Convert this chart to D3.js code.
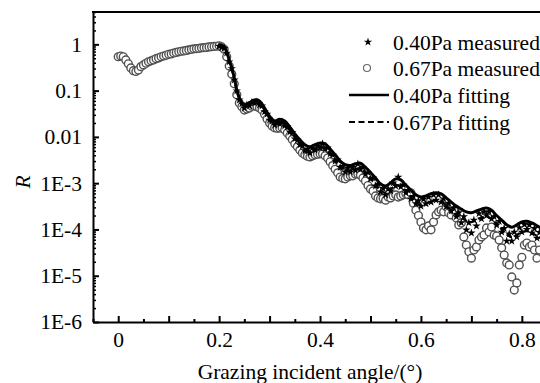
<!DOCTYPE html>
<html>
<head>
<meta charset="utf-8">
<script src="https://cdn.jsdelivr.net/npm/d3@7"></script>
<style>
  html, body { margin: 0; padding: 0; background: #fff; }
  svg { display: block; }
</style>
</head>
<body>
<svg id="chart" width="540" height="383"></svg>
<script>
// grazing angles of the measured points (deg)
const angles = [
  0, 0.005, 0.01, 0.015, 0.02, 0.025, 0.03, 0.035, 0.04, 0.045,
  0.05, 0.055, 0.06, 0.065, 0.07, 0.075, 0.08, 0.085, 0.09, 0.095,
  0.1, 0.105, 0.11, 0.115, 0.12, 0.125, 0.13, 0.135, 0.14, 0.145,
  0.15, 0.155, 0.16, 0.165, 0.17, 0.175, 0.18, 0.185, 0.19, 0.195,
  0.2, 0.205, 0.21, 0.215, 0.22, 0.225, 0.23, 0.235, 0.24, 0.245,
  0.25, 0.255, 0.26, 0.265, 0.27, 0.275, 0.28, 0.285, 0.29, 0.295,
  0.3, 0.305, 0.31, 0.315, 0.32, 0.325, 0.33, 0.335, 0.34, 0.345,
  0.35, 0.355, 0.36, 0.365, 0.37, 0.375, 0.38, 0.385, 0.39, 0.395,
  0.4, 0.405, 0.41, 0.415, 0.42, 0.425, 0.43, 0.435, 0.44, 0.445,
  0.45, 0.455, 0.46, 0.465, 0.47, 0.475, 0.48, 0.485, 0.49, 0.495,
  0.5, 0.505, 0.51, 0.515, 0.52, 0.525, 0.53, 0.535, 0.54, 0.545,
  0.55, 0.555, 0.56, 0.565, 0.57, 0.575, 0.58, 0.585, 0.59, 0.595,
  0.6, 0.605, 0.61, 0.615, 0.62, 0.625, 0.63, 0.635, 0.64, 0.645,
  0.65, 0.655, 0.66, 0.665, 0.67, 0.675, 0.68, 0.685, 0.69, 0.695,
  0.7, 0.705, 0.71, 0.715, 0.72, 0.725, 0.73, 0.735, 0.74, 0.745,
  0.75, 0.755, 0.76, 0.765, 0.77, 0.775, 0.78, 0.785, 0.79, 0.795,
  0.8, 0.805, 0.81, 0.815, 0.82, 0.825, 0.83, 0.835
]

// 0.67Pa measured reflectivity, one value per angle above
const measured067 = [
  0.54, 0.56, 0.54, 0.46, 0.38, 0.31, 0.27, 0.26, 0.28, 0.33,
  0.36, 0.39, 0.42, 0.44, 0.46, 0.49, 0.51, 0.54, 0.56, 0.58,
  0.61, 0.62, 0.65, 0.67, 0.69, 0.71, 0.72, 0.74, 0.76, 0.78,
  0.80, 0.81, 0.82, 0.84, 0.85, 0.86, 0.88, 0.89, 0.90, 0.91,
  0.93, 0.88, 0.78, 0.54, 0.34, 0.23, 0.14, 0.081, 0.054, 0.045,
  0.038, 0.040, 0.042, 0.046, 0.047, 0.045, 0.042, 0.038, 0.031, 0.0245,
  0.020, 0.0173, 0.0157, 0.0153, 0.0155, 0.0157, 0.0142, 0.0122, 0.0105, 0.0088,
  0.0071, 0.0061, 0.0052, 0.0045, 0.0041, 0.0038, 0.0037, 0.0039, 0.0041, 0.0042,
  0.0043, 0.0043, 0.0039, 0.0035, 0.0029, 0.0024, 0.0020, 0.00167, 0.00136, 0.00127,
  0.00124, 0.00136, 0.00144, 0.00144, 0.00158, 0.00158, 0.00151, 0.0013, 0.00112, 8.9e-4,
  7.5e-4, 6.8e-4, 5.3e-4, 4.8e-4, 4.6e-4, 4.7e-4, 4.3e-4, 5.0e-4, 4.8e-4, 5.3e-4,
  5.6e-4, 5.0e-4, 5.3e-4, 5.6e-4, 5.9e-4, 5.6e-4, 6.2e-4, 3.7e-4, 2.6e-4, 2.0e-4,
  1.45e-4, 1.08e-4, 9.8e-5, 1.19e-4, 9.8e-5, 1.45e-4, 2.06e-4, 2.4e-4, 2.6e-4, 2.4e-4,
  3.1e-4, 2.3e-4, 2.06e-4, 2.6e-4, 1.77e-4, 1.25e-4, 1.38e-4, 6.9e-5, 4.6e-5, 3.3e-5,
  2.4e-5, 3.6e-5, 4.2e-5, 5.9e-5, 6.9e-5, 7.6e-5, 1.08e-4, 8.8e-5, 1.13e-4, 7.6e-5,
  7.2e-5, 5.9e-5, 4.0e-5, 2.8e-5, 1.89e-5, 1.71e-5, 9.4e-6, 4.9e-6, 7.0e-6, 1.71e-5,
  2.5e-5, 4.6e-5, 5.1e-5, 4.2e-5, 4.6e-5, 3.6e-5, 2.4e-5, 3.6e-5
]

// 0.40Pa measured reflectivity, starts at angle 0.2
const measured040Start = 0.2
const measured040 = [
  0.91, 0.86, 0.82, 0.65, 0.42, 0.30, 0.17, 0.099, 0.063, 0.052,
  0.042, 0.049, 0.047, 0.056, 0.054, 0.057, 0.049, 0.047, 0.035, 0.031,
  0.023, 0.022, 0.018, 0.0206, 0.0191, 0.0211, 0.0173, 0.0164, 0.0128, 0.0125,
  0.0091, 0.0086, 0.0067, 0.0064, 0.0050, 0.0054, 0.0045, 0.0058, 0.0052, 0.0064,
  0.0058, 0.0071, 0.0055, 0.0058, 0.0043, 0.0041, 0.0030, 0.0032, 0.0022, 0.0023,
  0.00175, 0.0021, 0.00175, 0.0022, 0.0019, 0.0026, 0.0020, 0.0022, 0.00158, 0.0017,
  0.00124, 0.0013, 8.7e-4, 9.6e-4, 6.5e-4, 7.7e-4, 5.6e-4, 7.5e-4, 6.8e-4, 1.01e-3,
  8.7e-4, 1.36e-3, 8.3e-4, 9.2e-4, 6.2e-4, 7.0e-4, 4.6e-4, 5.2e-4, 3.6e-4, 4.2e-4,
  3.2e-4, 4.5e-4, 3.6e-4, 5.0e-4, 3.9e-4, 5.6e-4, 4.3e-4, 5.6e-4, 3.9e-4, 4.6e-4,
  3.1e-4, 3.7e-4, 2.5e-4, 2.9e-4, 1.9e-4, 2.3e-4, 1.4e-4, 1.9e-4, 9.8e-5, 1.4e-4,
  8.4e-5, 1.6e-4, 1.19e-4, 2.2e-4, 1.7e-4, 2.4e-4, 2.0e-4, 2.4e-4, 1.7e-4, 1.9e-4,
  1.25e-4, 1.5e-4, 8.8e-5, 1.05e-4, 5.6e-5, 8.0e-5, 5.6e-5, 8.8e-5, 6.9e-5, 1.1e-4,
  8.8e-5, 1.28e-4, 1.0e-4, 1.25e-4, 8.4e-5, 1.05e-4, 6.5e-5, 8.6e-5
]

// fitted curves
const fitAngles = [
  0.2, 0.205, 0.21, 0.215, 0.22, 0.225, 0.23, 0.235, 0.24, 0.245, 0.25,
  0.26, 0.27, 0.28, 0.29, 0.3, 0.31, 0.32, 0.33, 0.34, 0.35,
  0.36, 0.37, 0.38, 0.39, 0.4, 0.41, 0.42, 0.43, 0.44, 0.45,
  0.46, 0.47, 0.48, 0.49, 0.5, 0.51, 0.52, 0.53, 0.54, 0.55,
  0.56, 0.57, 0.58, 0.59, 0.6, 0.61, 0.62, 0.63, 0.64, 0.65,
  0.66, 0.67, 0.68, 0.69, 0.7, 0.71, 0.72, 0.73, 0.74, 0.75,
  0.76, 0.77, 0.78, 0.79, 0.8, 0.81, 0.82, 0.83, 0.84
]
const fit040 = [
  0.95, 0.95, 0.91, 0.69, 0.46, 0.31, 0.19, 0.104, 0.070, 0.055, 0.049,
  0.055, 0.063, 0.060, 0.042, 0.028, 0.022, 0.024, 0.022, 0.0165, 0.0116,
  0.0087, 0.0068, 0.0061, 0.0068, 0.0074, 0.0071, 0.0055, 0.0041, 0.0030, 0.0025,
  0.0024, 0.0026, 0.0027, 0.0022, 0.0017, 0.0013, 9.6e-4, 8.7e-4, 1.02e-3, 1.24e-3,
  1.18e-3, 9.1e-4, 7.1e-4, 5.6e-4, 5.0e-4, 5.3e-4, 5.9e-4, 6.2e-4, 5.9e-4, 4.8e-4,
  3.9e-4, 3.2e-4, 2.75e-4, 2.4e-4, 2.3e-4, 2.5e-4, 2.75e-4, 2.9e-4, 2.6e-4, 2.0e-4,
  1.6e-4, 1.26e-4, 1.12e-4, 1.26e-4, 1.45e-4, 1.5e-4, 1.38e-4, 1.2e-4, 1.03e-4
]
const fit067 = [
  0.95, 0.94, 0.88, 0.65, 0.43, 0.29, 0.175, 0.098, 0.066, 0.052, 0.046,
  0.050, 0.057, 0.054, 0.038, 0.025, 0.019, 0.021, 0.019, 0.0142, 0.0099,
  0.0073, 0.0056, 0.0049, 0.0055, 0.0060, 0.0057, 0.0044, 0.0032, 0.0023, 0.0019,
  0.0018, 0.0020, 0.0021, 0.0017, 0.00128, 9.6e-4, 7.0e-4, 6.2e-4, 7.3e-4, 9.0e-4,
  8.6e-4, 6.5e-4, 5.0e-4, 3.9e-4, 3.4e-4, 3.6e-4, 4.1e-4, 4.3e-4, 4.1e-4, 3.3e-4,
  2.6e-4, 2.1e-4, 1.8e-4, 1.55e-4, 1.45e-4, 1.6e-4, 1.8e-4, 1.9e-4, 1.7e-4, 1.3e-4,
  1.0e-4, 7.8e-5, 6.8e-5, 7.6e-5, 8.8e-5, 9.2e-5, 8.4e-5, 7.2e-5, 6.2e-5
]

const xTickValues = [0, 0.2, 0.4, 0.6, 0.8]
const yTickValues = [1, 0.1, 0.01, 1e-3, 1e-4, 1e-5, 1e-6]
const yTickLabels = ['1', '0.1', '0.01', '1E-3', '1E-4', '1E-5', '1E-6']
const legendLabels = ['0.40Pa measured', '0.67Pa measured', '0.40Pa fitting', '0.67Pa fitting']
const xTitle = 'Grazing incident angle/(\u00b0)'
const yTitle = 'R'

const FONT = "'Liberation Serif', 'DejaVu Serif', 'Times New Roman', serif"
const FONT_SIZE = 21.5
const plot = { left: 93, right: 540, top: 12, bottom: 322 }

const x = d3.scaleLinear().domain([-0.05, 0.836]).range([plot.left, plot.right])
const y = d3.scaleLog().domain([1e-6, 5]).range([plot.bottom, plot.top])

const svg = d3.select('#chart')

svg.append('clipPath').attr('id', 'clip')
  .append('rect')
  .attr('x', plot.left).attr('y', plot.top)
  .attr('width', plot.right - plot.left).attr('height', plot.bottom - plot.top)

const data = svg.append('g').attr('clip-path', 'url(#clip)')

// 0.67Pa measured: open grey circles
data.append('g')
  .selectAll('circle')
  .data(d3.zip(angles, measured067))
  .join('circle')
  .attr('cx', (d) => x(d[0]))
  .attr('cy', (d) => y(d[1]))
  .attr('r', 3.9)
  .attr('fill', '#fff')
  .attr('stroke', '#505050')
  .attr('stroke-width', 1.4)

// 0.40Pa measured: black stars
const starAngles = angles.slice(angles.indexOf(measured040Start))
const star = d3.symbol(d3.symbolStar, 22)
data.append('g')
  .selectAll('path')
  .data(d3.zip(starAngles, measured040))
  .join('path')
  .attr('transform', (d) => `translate(${x(d[0])},${y(d[1])})`)
  .attr('d', star)
  .attr('fill', '#000')

const line = d3.line()
  .x((d) => x(d[0]))
  .y((d) => y(d[1]))
  .curve(d3.curveCatmullRom)

data.append('path')
  .datum(d3.zip(fitAngles, fit067))
  .attr('d', line)
  .attr('fill', 'none')
  .attr('stroke', '#000')
  .attr('stroke-width', 2.2)
  .attr('stroke-dasharray', '6 3')

data.append('path')
  .datum(d3.zip(fitAngles, fit040))
  .attr('d', line)
  .attr('fill', 'none')
  .attr('stroke', '#000')
  .attr('stroke-width', 3)

// axes
const styleText = (sel) => sel
  .attr('font-family', FONT)
  .attr('font-size', FONT_SIZE)
  .attr('fill', '#000')

const xMinor = d3.range(-1, 18).map((i) => +(i * 0.05).toFixed(2))
const gxMinor = svg.append('g')
  .attr('transform', `translate(0,${plot.bottom})`)
  .call(d3.axisBottom(x)
    .tickValues(xMinor)
    .tickSize(-3).tickSizeOuter(0).tickFormat(''))
gxMinor.selectAll('.tick line').attr('stroke-width', 2)
  .filter((d) => Math.round(d * 100) % 10 === 0).attr('y2', -6)
gxMinor.select('.domain').attr('stroke-width', 2)

svg.append('g')
  .attr('transform', `translate(0,${plot.bottom})`)
  .call(d3.axisBottom(x)
    .tickValues(xTickValues)
    .tickSize(0).tickSizeOuter(0).tickPadding(10)
    .tickFormat(d3.format('')))
  .call((g) => g.select('.domain').remove())
  .selectAll('text').call(styleText)

const yMinor = y.ticks().filter((d) => yTickValues.indexOf(d) < 0)
svg.append('g')
  .attr('transform', `translate(${plot.left},0)`)
  .call(d3.axisLeft(y)
    .tickValues(yMinor)
    .tickSize(-3).tickSizeOuter(0).tickFormat(''))
  .call((g) => g.selectAll('.tick line').attr('stroke-width', 1.5))
  .select('.domain').attr('stroke-width', 2)

svg.append('g')
  .attr('transform', `translate(${plot.left},0)`)
  .call(d3.axisLeft(y)
    .tickValues(yTickValues)
    .tickSize(-6).tickSizeOuter(0).tickPadding(11)
    .tickFormat((d, i) => yTickLabels[i]))
  .call((g) => g.select('.domain').remove())
  .call((g) => g.selectAll('.tick line').attr('stroke-width', 2))
  .selectAll('text').call(styleText)

svg.append('line')
  .attr('x1', plot.left - 1).attr('x2', plot.right)
  .attr('y1', plot.top).attr('y2', plot.top)
  .attr('stroke', '#000').attr('stroke-width', 2)

// axis titles
svg.append('text')
  .attr('x', 310).attr('y', 379)
  .attr('text-anchor', 'middle')
  .call(styleText)
  .text(xTitle)

svg.append('text')
  .attr('transform', 'translate(30,182) rotate(-90)')
  .attr('text-anchor', 'middle')
  .attr('font-style', 'italic')
  .call(styleText)
  .text(yTitle)

// legend
const legend = svg.append('g')
const rowY = [42, 68, 95, 122]
legend.append('path')
  .attr('transform', `translate(368,${rowY[0]})`)
  .attr('d', d3.symbol(d3.symbolStar, 22))
  .attr('fill', '#000')
legend.append('circle')
  .attr('cx', 367).attr('cy', rowY[1]).attr('r', 3.5)
  .attr('fill', '#fff').attr('stroke', '#6a6a6a').attr('stroke-width', 1.2)
legend.append('line')
  .attr('x1', 349).attr('x2', 389).attr('y1', rowY[2]).attr('y2', rowY[2])
  .attr('stroke', '#000').attr('stroke-width', 2.6)
legend.append('line')
  .attr('x1', 349).attr('x2', 389).attr('y1', rowY[3]).attr('y2', rowY[3])
  .attr('stroke', '#000').attr('stroke-width', 2).attr('stroke-dasharray', '6 3.5')
legend.selectAll('text')
  .data(legendLabels)
  .join('text')
  .attr('x', 393)
  .attr('y', (d, i) => rowY[i])
  .attr('dy', '0.35em')
  .call(styleText)
  .text((d) => d)
</script>
</body>
</html>
